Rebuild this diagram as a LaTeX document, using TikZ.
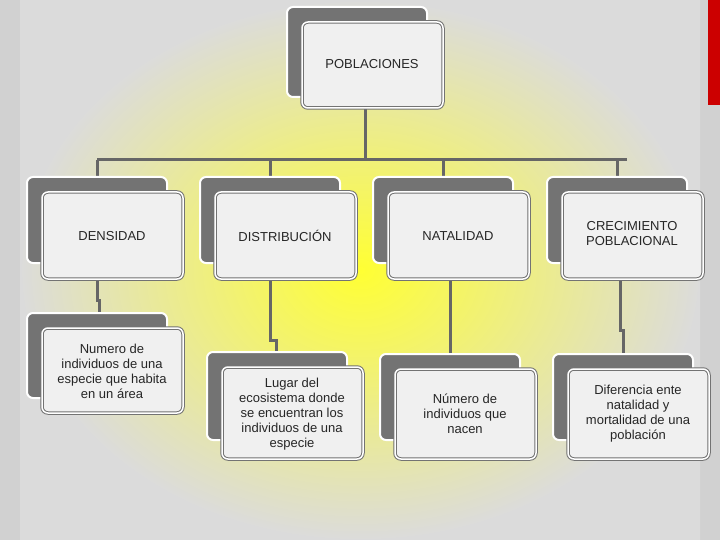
\documentclass[tikz,border=0pt]{standalone}
\usepackage{fontspec}
\setmainfont{Liberation Sans}
\begin{document}
\begin{tikzpicture}[x=1pt,y=-1pt,
  back/.style={draw=white,line width=2pt,fill=black!55,rounded corners=6pt},
  front/.style={draw=black!55,line width=1pt,fill=black!6,rounded corners=6pt,double=white,double distance=1.5pt},
  lbl/.style={align=center,font=\fontsize{13}{15}\selectfont,text=black!85},
  conn/.style={draw=black!60,line width=3pt}]
\useasboundingbox (0,0) rectangle (720,540);
\fill[black!18] (0,0) rectangle (720,540);
\shade[inner color=yellow!80,outer color=black!14] (20,0) rectangle (700,540);
\fill[red!80!black] (708,0) rectangle (720,105);
% connectors
\coordinate (h1) at (97,160); \coordinate (h2) at (627,160);
\draw[conn] (365,108) -- (365,160);
\draw[conn] (h1) -- (h2);
\foreach \x in {97,270,443,617} \draw[conn] (\x,160) -- (\x,180);
\draw[conn] (97,279) -- (97,300) -- (99,300) -- (99,315);
\draw[conn] (270,279) -- (270,340) -- (276,340) -- (276,355);
\draw[conn] (450,279) -- (450,357);
\draw[conn] (620,279) -- (620,330) -- (623,330) -- (623,357);
% boxes
\newcommand\mybox[7]{%
  \draw[back] (#1,#2) rectangle (#1+140,#3);
  \draw[front] (#1+15,#2+15) rectangle (#1+156,#4);
  \node[lbl] (#5) at (#1+85,#6) {#7};}
\mybox{287}{7}{97}{108}{pob}{64}{POBLACIONES}
\mybox{27}{177}{263}{279}{den}{236}{DENSIDAD}
\mybox{200}{177}{263}{279}{dis}{236}{DISTRIBUCIÓN}
\mybox{373}{177}{263}{279}{nat}{236}{NATALIDAD}
\mybox{547}{177}{263}{279}{cre}{234}{CRECIMIENTO\\POBLACIONAL}
\mybox{27}{313}{398}{413}{den2}{371}{Numero de\\individuos de una\\especie que habita\\en un área}
\mybox{207}{352}{440}{459}{dis2}{414}{Lugar del\\ecosistema donde\\se encuentran los\\individuos de una\\especie}
\mybox{380}{354}{440}{459}{nat2}{414}{Número de\\individuos que\\nacen}
\mybox{553}{354}{440}{459}{cre2}{414}{Diferencia ente\\natalidad y\\mortalidad de una\\población}
\end{tikzpicture}
\end{document}
